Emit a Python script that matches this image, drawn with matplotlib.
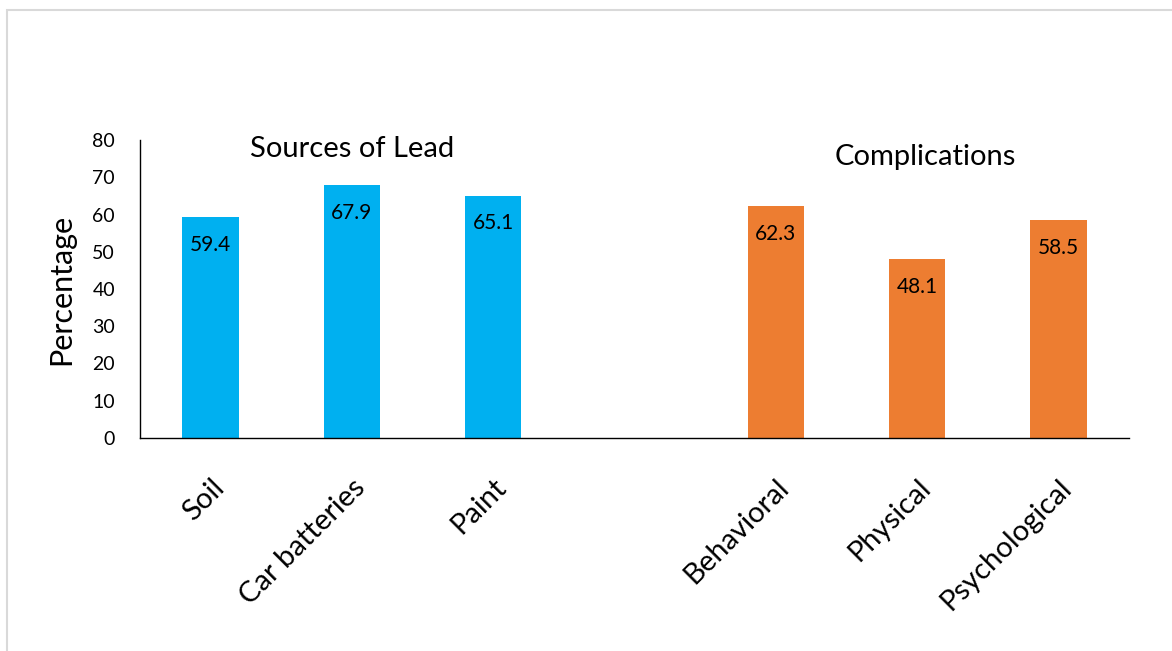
import numpy as np
import matplotlib.pyplot as plt
from matplotlib.patches import Rectangle

plt.rcParams['font.family'] = ['Lato', 'DejaVu Sans']

categories = ['Soil', 'Car batteries', 'Paint', '', 'Behavioral', 'Physical', 'Psychological']
values = [59.4, 67.9, 65.1, None, 62.3, 48.1, 58.5]
colors = ['#00B0F0', '#00B0F0', '#00B0F0', 'none', '#ED7D31', '#ED7D31', '#ED7D31']
group_titles = ['Sources of Lead', 'Complications']

fig = plt.figure(figsize=(11.72, 6.51), dpi=100)
fig.patches.append(Rectangle((7/1172, -0.1), 1.1, 1 - 10/651 + 0.1, transform=fig.transFigure,
                             fill=False, edgecolor='#D9D9D9', linewidth=1.5))
ax = fig.add_axes([140/1172, 1 - 438/651, 989/1172, 298/651])

x = np.arange(len(categories))
for i, (v, c) in enumerate(zip(values, colors)):
    if v is None:
        continue
    ax.bar(x[i], v, width=0.4, color=c)
    ax.annotate(f'{v:.1f}', (x[i], v), xytext=(0, -20), textcoords='offset points',
                ha='center', va='center', fontsize=15)

ax.set_xlim(-0.5, len(categories) - 0.5)
ax.set_ylim(0, 80)
ax.set_yticks(np.arange(0, 81, 10))
ax.set_xticks(x)
ax.set_xticklabels(categories, rotation=45, ha='right', rotation_mode='anchor', fontsize=21)
ax.tick_params(axis='y', length=0, pad=18, labelsize=14)
ax.tick_params(axis='x', length=0, pad=26)
for s in ['top', 'right']:
    ax.spines[s].set_visible(False)
ax.spines['left'].set_linewidth(1)
ax.spines['bottom'].set_linewidth(1)

ax.set_ylabel('Percentage', fontsize=22, labelpad=12)
ax.text(1, 77.5, group_titles[0], ha='center', va='center', fontsize=21)
ax.text(5.06, 75.5, group_titles[1], ha='center', va='center', fontsize=21)

fig.savefig('out.png', dpi=100)
